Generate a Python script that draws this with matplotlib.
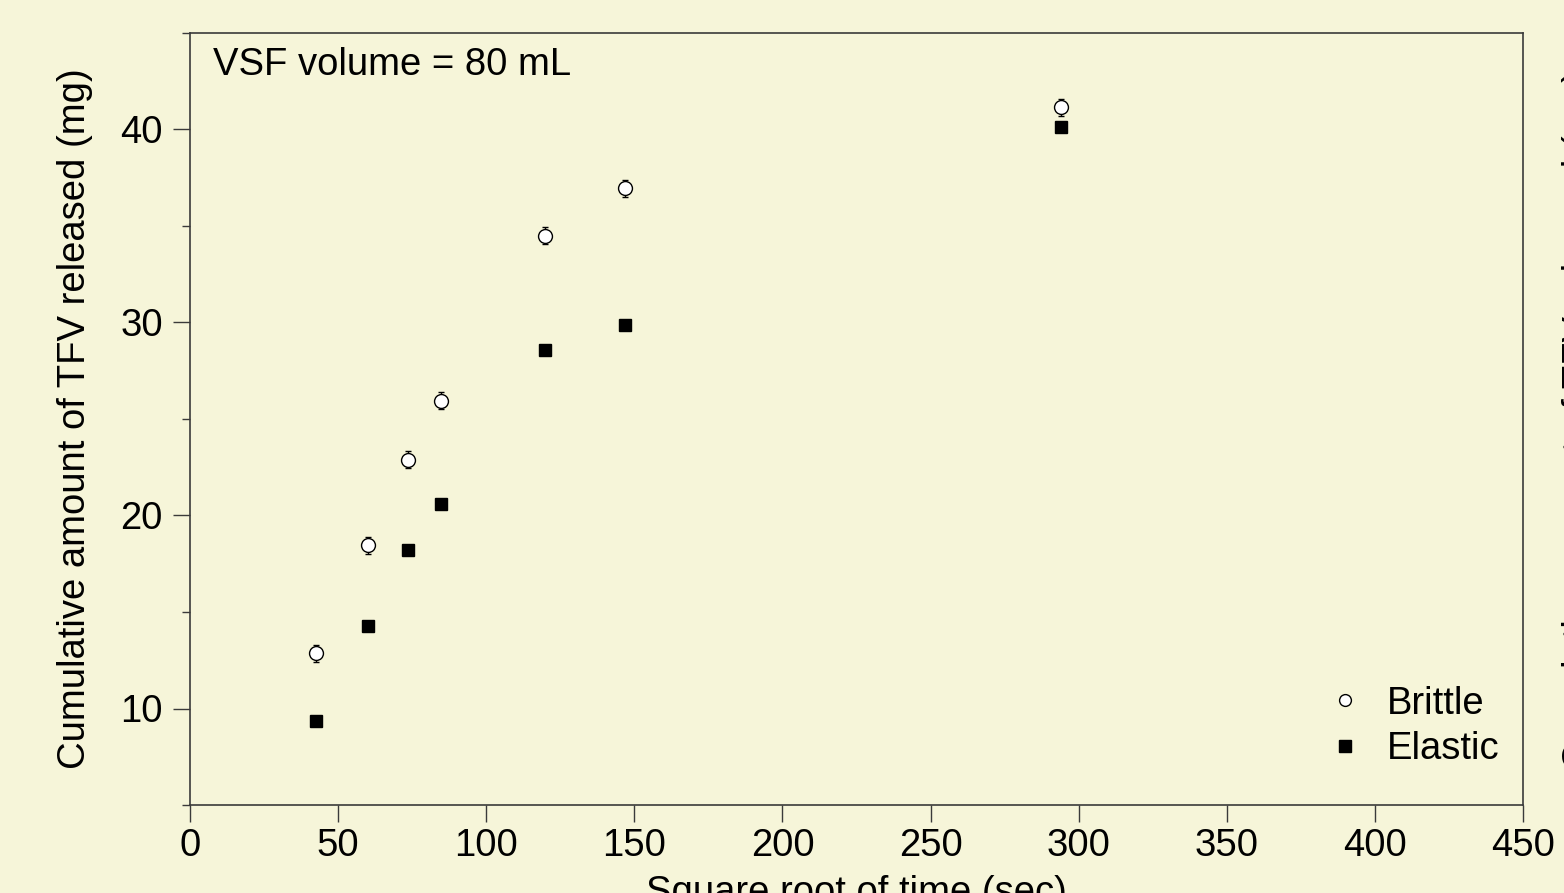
import matplotlib
matplotlib.use("Agg")
import matplotlib.pyplot as plt
from matplotlib.lines import Line2D
from matplotlib.ticker import MultipleLocator

# data (x = square root of time in sec)
sqrt_time = [42.4, 60.0, 73.5, 84.9, 120.0, 147.0, 293.9]
brittle = [12.85, 18.45, 22.9, 25.95, 34.5, 36.95, 41.15]
brittle_err = [0.45, 0.45, 0.45, 0.45, 0.45, 0.45, 0.45]
elastic = [9.33, 14.25, 18.22, 20.62, 28.55, 29.85, 40.15]
series_names = ["Brittle", "Elastic"]

BG = "#F6F5D9"
AXC = "#3a3a3a"
FS = 27.5

plt.rcParams["font.family"] = ["Liberation Sans", "DejaVu Sans"]

fig = plt.figure(figsize=(15.64, 8.93), dpi=100, facecolor=BG)
ax = fig.add_axes([190 / 1564, 88 / 893, 1333 / 1564, 772 / 893], facecolor=BG)

ax.errorbar(sqrt_time, brittle, yerr=brittle_err, fmt="o", ms=10, mfc="white",
            mec="black", mew=1.0, ecolor="black", elinewidth=1.0, capsize=2.5,
            capthick=1.0, zorder=3)
ax.plot(sqrt_time, elastic, "s", ms=9, mfc="black", mec="black",
        zorder=3, linestyle="none")

ax.set_xlim(0, 450)
ax.set_ylim(5, 45)
ax.xaxis.set_major_locator(MultipleLocator(50))
ax.yaxis.set_major_locator(MultipleLocator(10))
ax.yaxis.set_minor_locator(MultipleLocator(5))

for s in ax.spines.values():
    s.set_color(AXC)
    s.set_linewidth(1.2)

ax.tick_params(axis="both", which="major", direction="out", length=12.5,
               width=1.0, color=AXC, labelsize=FS)
ax.tick_params(axis="x", which="major", pad=4)
ax.tick_params(axis="y", which="major", pad=7)
ax.tick_params(axis="y", which="minor", direction="out", length=6,
               width=1.0, color=AXC)

ax.set_xlabel("Square root of time (sec)", fontsize=FS, labelpad=8)
ax.set_ylabel("Cumulative amount of TFV released (mg)", fontsize=FS, labelpad=20)

ax.text(0.017, 0.982, "VSF volume = 80 mL", transform=ax.transAxes,
        fontsize=FS, ha="left", va="top")

handles = [
    Line2D([], [], marker="o", ms=8.5, mfc="white", mec="black", mew=1.0, ls="none"),
    Line2D([], [], marker="s", ms=8, mfc="black", mec="black", ls="none"),
]
ax.legend(handles, series_names, loc="lower right", bbox_to_anchor=(0.997, 0.024),
          frameon=False, fontsize=FS, handlelength=1.0, handletextpad=0.6,
          borderpad=0, labelspacing=0.25)

# y label of the neighbouring panel, cut off at the right edge
fig.text(1580 / 1564, 0.53, "Cumulative amount of TFV released (mg)",
         rotation=90, fontsize=FS, ha="center", va="center")

fig.savefig("out.png", dpi=100, facecolor=BG)
